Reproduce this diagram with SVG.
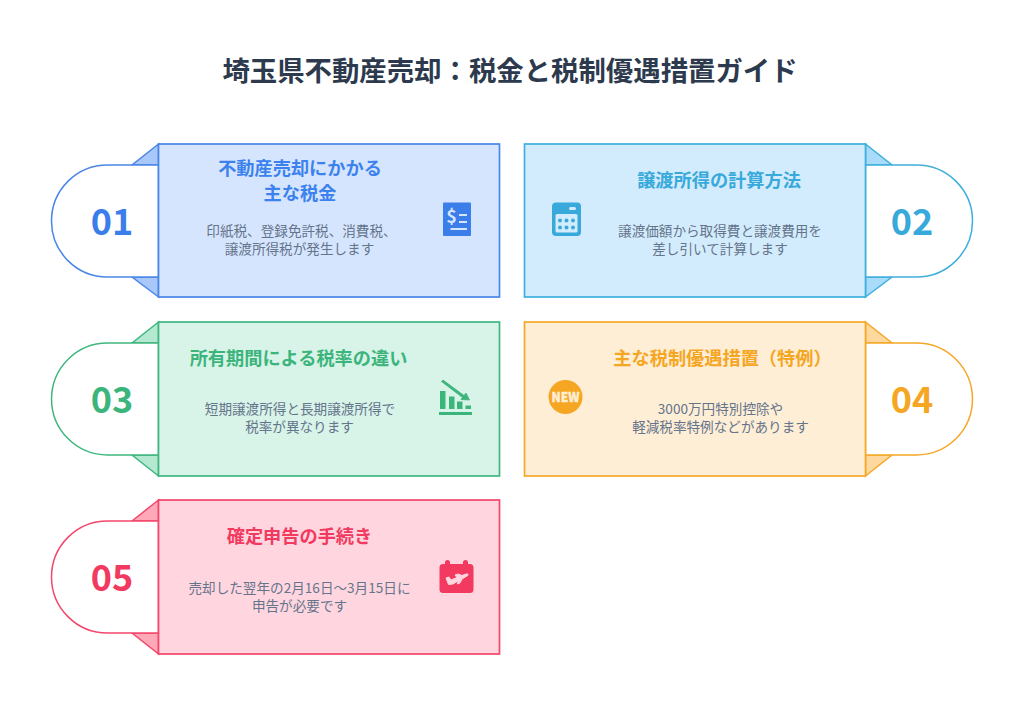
<svg xmlns="http://www.w3.org/2000/svg" width="1024" height="715" viewBox="0 0 1024 715">
<style>
text{font-family:"Noto Sans CJK JP","Noto Sans",sans-serif;text-anchor:middle}
.t{font-size:27.4px;font-weight:700;fill:#2d3a4e}
.h{font-size:18.2px;font-weight:700}
.b{font-size:13.6px;fill:#64748b}
.n{font-size:36px;font-weight:700}
.c{stroke-width:1.7}
.tab{fill:#fff;stroke-width:1.5}
.tri{stroke-width:1.5}
.a{fill:#d6e5fe;stroke:#4a86e8}.a2{fill:#a9c8fa;stroke:#4a86e8}
.d{fill:#d3ecfd;stroke:#3fafdc}.d2{fill:#a9dcfb;stroke:#3fafdc}
.e{fill:#d8f3e8;stroke:#3fb77f}.e2{fill:#b5e8d0;stroke:#3fb77f}
.f{fill:#ffeed6;stroke:#f5a827}.f2{fill:#fdd9a0;stroke:#f5a827}
.g{fill:#ffd6df;stroke:#f4476b}.g2{fill:#ffa8b8;stroke:#f4476b}
</style>
<rect width="1024" height="715" fill="#fff"/>
<text class="t" x="510" y="80.500">埼玉県不動産売却：税金と税制優遇措置ガイド</text>
<g id="node-1">
<path class="tri a2" d="M158.500 144L132 165H158.500ZM158.500 297L132 277H158.500Z"/>
<path class="tab" stroke="#4a86e8" d="M158.500 165H107.500A56 56 0 0 0 107.500 277H158.500Z"/>
<rect class="c a" x="158.500" y="144" width="341" height="153"/>
<text class="n" x="112" y="235" fill="#3b7de9">01</text>
<text class="h" x="300" y="174.500" fill="#3b82ee">不動産売却にかかる</text>
<text class="h" x="300" y="199.500" fill="#3b82ee">主な税金</text>
<text class="b" x="301.500" y="235.500">印紙税、登録免許税、消費税、</text>
<text class="b" x="299.500" y="254">譲渡所得税が発生します</text>
<rect x="443" y="202.500" width="28" height="33.500" rx="1" fill="#3b7de9"/>
<path d="M459 215H467M459 222H467M450.500 229H467" stroke="#d6e5fe" stroke-width="2.200" fill="none"/>
<text x="451.500" y="222.500" font-size="18" font-weight="700" fill="#d6e5fe">$</text>
</g>
<g id="node-2">
<path class="tri d2" d="M865.500 144L892 165H865.500ZM865.500 297L892 277H865.500Z"/>
<path class="tab" stroke="#3fafdc" d="M865.500 165H916.500A56 56 0 0 1 916.500 277H865.500Z"/>
<rect class="c d" x="524.500" y="144" width="341" height="153"/>
<text class="n" x="912" y="235" fill="#37a9da">02</text>
<text class="h" x="719" y="186.500" fill="#37a9da">譲渡所得の計算方法</text>
<text class="b" x="720" y="235.500">譲渡価額から取得費と譲渡費用を</text>
<text class="b" x="720" y="254">差し引いて計算します</text>
<rect x="552" y="202.500" width="29" height="33.500" rx="4" fill="#37a9da"/>
<rect x="555.500" y="214" width="22" height="18.500" rx="1.500" fill="#d3ecfd"/>
<rect x="569" y="207" width="7" height="3" rx="1.500" fill="#d3ecfd"/>
<g fill="#37a9da"><circle cx="560" cy="220.500" r="2"/><circle cx="566.500" cy="220.500" r="2"/><circle cx="573" cy="220.500" r="2"/><circle cx="560" cy="227.500" r="2"/><circle cx="566.500" cy="227.500" r="2"/><circle cx="573" cy="227.500" r="2"/></g>
</g>
<g id="node-3">
<path class="tri e2" d="M158.500 322L132 343H158.500ZM158.500 476L132 455H158.500Z"/>
<path class="tab" stroke="#3fb77f" d="M158.500 343H107.500A56 56 0 0 0 107.500 455H158.500Z"/>
<rect class="c e" x="158.500" y="322" width="341" height="154"/>
<text class="n" x="112" y="413" fill="#3cb57c">03</text>
<text class="h" x="298.500" y="364.500" fill="#3cb57c">所有期間による税率の違い</text>
<text class="b" x="300" y="413.500">短期譲渡所得と長期譲渡所得で</text>
<text class="b" x="299.500" y="432">税率が異なります</text>
<g fill="#3cb57c">
<rect x="439" y="412" width="33" height="3"/>
<rect x="440" y="391" width="5.500" height="18"/><rect x="449" y="396.500" width="5.500" height="12.500"/><rect x="457" y="401.500" width="5.500" height="7.500"/><rect x="465.500" y="405.500" width="5.500" height="3.500"/>
<path d="M441.500 381.500L443 380L464 395.500L466 393L469.500 400L461 399.500L462.500 397.500Z" stroke="#3cb57c" stroke-width=".8"/>
</g>
</g>
<g id="node-4">
<path class="tri f2" d="M865.500 322L892 343H865.500ZM865.500 476L892 455H865.500Z"/>
<path class="tab" stroke="#f5a827" d="M865.500 343H916.500A56 56 0 0 1 916.500 455H865.500Z"/>
<rect class="c f" x="524.500" y="322" width="341" height="154"/>
<text class="n" x="912" y="413" fill="#f5a623">04</text>
<text class="h" x="722.500" y="364.500" fill="#f5a623">主な税制優遇措置（特例）</text>
<text class="b" x="720.500" y="413.500">3000万円特別控除や</text>
<text class="b" x="720.500" y="432">軽減税率特例などがあります</text>
<circle cx="565.500" cy="397" r="17" fill="#f5a623"/>
<text x="565.500" y="402" font-size="13.500" font-weight="900" fill="#ffeed6" stroke="#ffeed6" stroke-width=".4" textLength="28" lengthAdjust="spacingAndGlyphs">NEW</text>
</g>
<g id="node-5">
<path class="tri g2" d="M158.500 500L132 521H158.500ZM158.500 654L132 633H158.500Z"/>
<path class="tab" stroke="#f4476b" d="M158.500 521H107.500A56 56 0 0 0 107.500 633H158.500Z"/>
<rect class="c g" x="158.500" y="500" width="341" height="154"/>
<text class="n" x="112" y="591" fill="#f2395f">05</text>
<text class="h" x="299.500" y="542.500" fill="#f2395f">確定申告の手続き</text>
<text class="b" x="299.500" y="593">売却した翌年の2月16日～3月15日に</text>
<text class="b" x="299.500" y="611">申告が必要です</text>
<path d="M443 564H445V562.500A2.500 2.500 0 0 1 450 562.500V564H463V562.500A2.500 2.500 0 0 1 468 562.500V564H470A3.500 3.500 0 0 1 473.500 567.500V590A3.500 3.500 0 0 1 470 593H443A3.500 3.500 0 0 1 439.500 590V567.500A3.500 3.500 0 0 1 443 564Z" fill="#f2395f"/>
<path d="M446 578L449 577L451 580L457 577.500L455 575L458 574L462 575.500L466 574C468.500 573.500 469 575 467 576L462 579L460 583L457.500 584L458 581L453 584L448.500 584.500Z" fill="#ffd6df" stroke="#ffd6df" stroke-width="1"/>
</g>
<g id="connectors"></g>
</svg>
